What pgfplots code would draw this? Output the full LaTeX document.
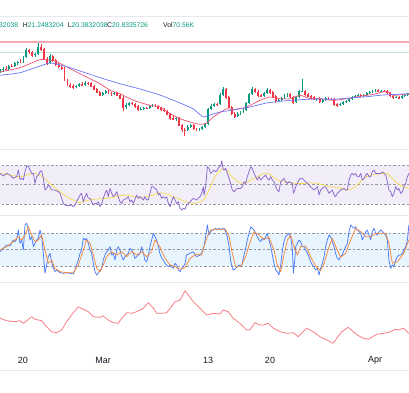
\documentclass[border=0pt]{standalone}
\usepackage{pgfplots}
\pgfplotsset{compat=1.18}
\usepackage{pgfplotstable}
\usepackage{fontspec}
\setmainfont{Liberation Sans}

\definecolor{upc}{HTML}{089981}
\definecolor{dnc}{HTML}{F23645}
\definecolor{maR}{HTML}{F0506E}
\definecolor{maB}{HTML}{6979F8}
\definecolor{hlR}{HTML}{F9A8AE}
\definecolor{hlT}{HTML}{B9E5DE}
\definecolor{rsiband}{HTML}{F2EEF9}
\definecolor{rsiline}{HTML}{8A66CC}
\definecolor{rsima}{HTML}{F5D94A}
\definecolor{stband}{HTML}{E9F5FE}
\definecolor{stK}{HTML}{4A7BF7}
\definecolor{stD}{HTML}{F5883A}
\definecolor{dashc}{HTML}{9598A1}
\definecolor{botline}{HTML}{F7777F}
\definecolor{sepc}{HTML}{E6E8EE}
\definecolor{txt}{HTML}{131722}

% candles: x index (3 per day), open, high, low, close  (price-scale position, top = small)
\pgfplotstableread{
x o h l c
0 72 70 74 71
1 71 68 72.5 69.5
2 69.5 67 71 70
3 70 66 71 66.5
4 66.5 64.5 68 67
5 67 63 68 64
6 64 61.5 65.5 62.5
7 62.5 60 64 63
8 63 57 64 58
9 58 49 59 51
10 51 50 54.5 52.5
11 52.5 51.5 57.5 56
12 56 54 58 55
13 55 44 56 48
14 48 44.5 52 50
15 50 49 61 60
16 60 58 66 64
17 64 55 65 57
18 57 55.5 62.5 61
19 61 60 66.5 65.5
20 65.5 64 68.5 67.5
21 67.5 66.5 71 69.5
22 69.5 68 82 81
23 81 80 87 85.5
24 85.5 84 88.5 87
25 87 85 89.5 88
26 88 85.5 89 86.5
27 86.5 84 88 85
28 85 83 87 86
29 86 82 87 83.5
30 83.5 82.5 85.5 84
31 84 83 88 87
32 87 86 91 90
33 90 88.5 94 93
34 93 92 97 96
35 96 93 97 94
36 94 91 95 92
37 92 91 95 93.5
38 93.5 92.5 96.5 95
39 95 92.5 96 94
40 94 93 97 96
41 96 94.5 99.5 99
42 99 97 112 108
43 108 104 110 105.5
44 105.5 103 107 104
45 104 103 106 104.5
46 104.5 103.5 108.5 107
47 107 106 112 110
48 110 108 111 109.5
49 109.5 107.5 110.5 108.5
50 108.5 107.5 110 109
51 109 106 110 107
52 107 104.5 108 105.5
53 105.5 104.5 108 106.5
54 106.5 105.5 110 109
55 109 108 111.5 110.5
56 110.5 109 112.5 111.5
57 111.5 110.5 116 115
58 115 114 121 119
59 119 117 121 120
60 120 118 122 119
61 119 118 127 126
62 126 125 133 130.5
63 130.5 129 137 131
64 131 126 132 127.5
65 127.5 125 129 126
66 126 125 131 129.5
67 129.5 128.5 132 130.5
68 130.5 128.5 131.5 130
69 130 126.5 131 127.5
70 127.5 124 128.5 125
71 125 109 126 110
72 110 105 111 106.5
73 106.5 103.5 108 104.5
74 104.5 103.5 107 105
75 105 94 106 96
76 96 88 97 90
77 90 89 99.5 98
78 98 97 109 108
79 108 107 116 114.5
80 114.5 113 118.5 117
81 117 113 118 114.5
82 114.5 112 116 113
83 113 109.5 114 110.5
84 110.5 103 111.5 104
85 104 93.5 105 95
86 95 87.5 96 89.5
87 89.5 88.5 94 92.5
88 92.5 91 97.5 96
89 96 94.5 98 97
90 97 93 98 94
91 94 89 95 90.5
92 90.5 89.5 94.5 93
93 93 92 98.5 97
94 97 96 104 101.5
95 101.5 99.5 103 101
96 101 97.5 102 98.5
97 98.5 95 99.5 96.5
98 96.5 94 97.5 95
99 95 94 99 97.5
100 97.5 96.5 105 103
101 103 97 104 98
102 98 91 99 92
103 92 80 93 91.5
104 91.5 90.5 96.5 95
105 95 94 98 97
106 97 96 99.5 98
107 98 97 101 100
108 100 98.5 101.5 99
109 99 98 104 102.5
110 102.5 100 103.5 101
111 101 98 102 99
112 99 98 100.5 99.5
113 99.5 98.5 101 100
114 100 99 107 105
115 105 104 107.5 106
116 106 103.5 107 104.5
117 104.5 102 105.5 103
118 103 100.5 104 101.5
119 101.5 99 102.5 100
120 100 97 101 98
121 98 95.5 99 96.5
122 96.5 95 97.5 96
123 96 94.5 97.5 96.5
124 96.5 94.5 97.5 95.5
125 95.5 93 96.5 94
126 94 91.5 95 92.5
127 92.5 90.5 93.5 91.5
128 91.5 90 92.5 91
129 91 90 93 92
130 92 90.5 93 91.5
131 91.5 90.5 93 92
132 92 91 94.5 93.5
133 93.5 92.5 97.5 96.5
134 96.5 95 100 98
135 98 96.5 99 97.5
136 97.5 96.5 100 99
137 99 96 100 97
138 97 95 98 96
139 96 94 97 95
}\candles

\pgfplotstableread{
x y
0 73
6.8 68.7
13.6 60.7
17.0 61.3
18.75 62
23.9 69.7
27.3 74.7
30.7 79.7
34.1 84.7
37.5 91.3
40.9 94.7
45.5 101.3
51.1 106.3
54.5 108
58.0 114.7
61.4 119.7
64.8 123
68.2 125.3
70.5 124
72.7 118
77.3 109.7
79.5 110.7
84.1 108
88.6 101.3
92.0 98
95.5 99.7
98.9 99.7
102.3 96.3
105.7 99.7
109.1 99.7
113.6 101.3
118.2 99.7
122.7 97.3
127.3 95.3
131.8 92.3
134.1 96.3
139.4 94.7
}\maRed

\pgfplotstableread{
x y
0 76.3
6.8 73.7
13.6 67
17 64
19.3 65
23.9 68.7
27.3 72
34.1 78.7
40.9 84.7
47.7 90
54.5 96
61.4 104
65.9 110
69.3 118
71.6 116
75 113
79.5 111
85.2 108
90.9 104
96.6 102
102.3 100.7
108 100
113.6 100.3
119.3 99
125 97.7
130.7 96
139.4 94.7
}\maBlue

\pgfplotstableread{
x y
0 61.4
1.14 58.7
2.27 61.4
3.41 59.7
4.55 56.3
5.68 58
6.25 64.8
6.82 55.2
7.39 56.3
7.95 54.6
8.52 63.1
9.09 68.9
9.66 68.9
10.23 64.8
10.8 61.4
11.36 61.4
11.93 51.1
12.5 58
13.07 59.7
13.64 63.1
14.2 64.1
14.77 56.3
15.34 44.3
15.9 46
16.48 49.4
17.05 47.7
17.6 44.3
18.75 44.3
19.9 42.6
20.45 40.9
21.0 35.8
21.6 30.6
22.16 28.9
23.3 28.2
24.4 28.9
25.0 27.2
25.6 28.9
26.1 32.3
26.7 35.8
27.3 39.2
27.8 40.9
28.4 32.3
29.0 37.5
29.5 40.9
30.1 35.8
30.7 35.8
31.25 32.3
31.8 28.9
32.4 30.6
32.95 30.6
33.5 32.3
34.1 27.2
34.7 30.6
35.2 35.8
35.8 40.9
36.4 44.3
36.9 37.5
37.5 46
38.1 40.9
38.6 37.5
39.2 39.2
39.8 42.6
40.3 37.5
40.9 32.3
41.5 30.6
42.0 34.0
43.2 35.8
43.75 37.5
44.3 32.3
44.9 34.0
45.45 30.6
46.0 34.7
46.6 39.2
47.2 35.8
47.7 37.5
48.3 35.8
48.9 34.0
49.4 37.5
50.0 34.0
50.6 34.7
51.1 40.9
51.7 47.7
52.3 47.7
52.8 46
53.4 45
54.0 39.2
54.5 40.9
55.1 35.8
55.7 37.5
56.25 35.8
56.8 37.5
57.4 30.6
58.0 27.2
58.5 32.3
59.1 37.5
59.7 34.0
60.2 30.6
60.8 32.3
61.4 25.5
61.9 23.8
62.5 25.5
63.1 24.5
63.6 28.9
64.8 32.3
65.9 35.8
67.0 34.0
68.2 37.5
68.75 40.9
69.3 47.7
69.55 39.2
70.1 47.7
70.7 68.2
71.25 66.5
71.8 61.4
72.4 63.1
72.96 64.8
73.5 63.1
74.1 64.8
74.7 68.2
75.2 68.9
75.6 74.4
76.0 66.5
76.4 64.8
76.9 66.5
77.5 61.4
78.1 56.3
78.6 51.1
79.2 44.3
79.8 42.6
80.3 44.3
80.9 46
82.05 46
82.6 47.7
83.2 52.9
83.75 51.1
84.3 58
84.9 63.1
85.5 68.2
86.0 66.5
86.6 61.4
87.2 58
87.7 54.6
88.3 58
88.9 54.6
89.4 56.3
90.0 58
90.6 59.7
91.1 56.3
91.7 54.6
92.3 58
92.85 54.6
93.4 52.9
94.0 47.7
94.55 44.3
95.1 42.6
95.7 52.9
96.3 54.6
96.8 56.3
97.4 52.9
98.0 51.1
98.5 52.9
99.7 51.1
100.0 40.9
100.5 44.3
100.8 47.7
101.4 51.1
101.9 54.6
102.5 56.3
103.1 56.3
103.6 54.6
104.8 51.1
105.9 47.7
107.05 44.3
108.2 47.7
108.8 39.2
109.3 44.3
109.9 46
110.5 47.7
111.0 47.7
111.6 44.3
112.2 40.9
112.7 42.6
113.3 44.3
113.9 39.2
114.4 37.5
115.0 40.9
115.6 42.6
116.1 44.3
117.3 46
117.85 44.3
118.4 44.3
119.0 54.6
119.55 59.7
120.1 61.4
120.7 59.7
121.25 61.4
121.8 58
122.4 58
123.0 61.4
123.5 54.6
124.1 56.3
124.7 59.7
125.2 61.4
125.8 58
126.4 58
126.9 63.1
127.5 64.8
128.1 61.4
128.6 61.4
129.8 61.4
130.35 63.1
130.9 61.4
131.5 59.7
132.05 52.9
132.6 44.3
133.2 42.6
133.75 37.5
134.3 40.9
134.9 47.7
135.5 44.3
136.0 46
136.6 40.9
137.2 42.6
137.7 47.7
138.3 51.1
138.9 58
139.4 61.4
}\rsi

\pgfplotstableread{
x y
0 61.4
3.4 59.7
6.8 58
9.1 59.7
11.4 61.4
13.6 59.7
15.9 54.6
18.2 47.7
20.5 42.6
22.7 37.5
25 34.0
27.3 31.3
29.5 33.4
31.8 34.7
34.1 35.4
36.4 35.8
38.6 36.8
40.9 38.5
43.2 39.2
45.5 37.5
47.7 36.8
50 37.5
52.3 39.2
54.5 41.6
56.8 40.2
59.1 37.5
61.4 34.7
63.6 32.3
65.9 30.6
68.2 32.3
69.55 34.7
70.7 40.9
71.8 47.7
73.0 56.3
74.1 61.4
75.2 64.8
76.4 65.5
77.5 64.8
78.6 59.7
80.9 52.9
83.2 51.1
85.5 54.6
87.7 58
90 61.4
91.1 61.4
92.3 59.7
94.55 54.6
96.8 52.9
99.1 51.8
101.4 51.1
103.6 51.1
105.9 51.8
108.2 51.1
110.5 49.4
112.7 47.7
115 47.0
117.3 45.0
118.4 44.3
119.55 45.0
121.8 49.4
124.1 56.3
126.4 59.7
128.6 60.7
130.9 61.4
132.05 61.4
133.2 58
135.5 51.1
137.7 47.7
139.4 46
}\rsima

\pgfplotstableread{
x y
0 46.1
1.14 52.1
2.27 58.2
3.41 56.4
4.55 67.3
5.11 64.3
5.68 68.5
6.25 85.5
6.82 61.2
7.39 67.3
7.95 49.1
8.52 94.6
9.09 97.6
9.66 85.5
10.23 67.3
10.8 73.4
11.36 55.2
11.93 61.2
12.5 67.3
13.07 70.3
13.64 85.5
14.2 73.4
14.77 43.1
15.34 6.7
15.9 21.8
16.48 37.0
17.05 43.1
17.6 27.9
18.2 15.8
18.75 9.7
19.3 12.8
20.45 7.9
21.6 6.7
22.7 7.9
23.9 6.7
25.0 5.5
25.6 12.8
26.1 21.8
26.7 30.9
27.3 43.1
27.8 49.1
28.4 70.3
29.0 67.3
29.5 70.3
30.1 61.2
30.7 49.1
31.25 43.1
31.8 24.9
32.4 9.7
32.95 3.7
33.5 6.7
34.1 12.8
34.7 15.8
35.2 30.9
35.8 40.0
36.4 46.1
36.9 49.1
37.5 55.2
38.1 40.0
38.6 43.1
39.2 30.9
39.8 49.1
40.3 55.2
40.9 49.1
41.5 37.0
42.0 30.9
42.6 37.0
43.2 40.0
43.75 43.1
44.3 52.1
44.9 49.1
45.45 43.1
46.0 34.0
46.6 37.0
47.2 40.0
47.7 43.1
48.3 55.2
48.9 43.1
49.4 30.9
50.0 27.9
50.6 40.0
51.1 55.2
51.7 67.3
52.3 79.4
52.8 73.4
53.4 67.3
54.0 55.2
54.5 43.1
55.1 34.0
55.7 30.9
56.25 24.9
56.8 21.8
57.4 18.8
58.0 21.8
58.5 18.8
59.1 15.8
59.7 24.9
60.2 21.8
60.8 12.8
61.4 9.7
61.9 15.8
62.5 18.8
63.1 24.9
63.6 40.0
64.8 43.1
65.9 46.1
67.0 37.0
68.2 40.0
68.75 43.1
69.3 52.1
69.55 55.2
70.1 73.4
70.7 94.6
71.25 76.4
71.8 82.4
72.4 85.5
73.0 85.5
73.5 88.5
74.1 85.5
74.7 88.5
75.2 85.5
75.8 88.5
76.4 88.5
76.9 82.4
77.5 73.4
78.1 55.2
78.6 30.9
79.2 15.8
79.8 12.8
80.3 15.8
80.9 18.8
81.5 21.8
82.05 18.8
82.6 24.9
83.2 40.0
83.75 52.1
84.3 67.3
84.9 79.4
85.5 91.5
86.0 88.5
86.6 85.5
87.2 79.4
87.7 73.4
88.3 67.3
88.9 64.3
89.4 70.3
90.0 67.3
90.6 73.4
91.1 79.4
91.7 67.3
92.3 55.2
92.85 40.0
93.4 24.9
94.0 12.8
94.55 9.7
95.1 3.7
95.7 21.8
96.3 49.1
96.8 64.3
97.4 73.4
98.0 76.4
98.5 79.4
99.1 73.4
99.7 49.1
100.0 6.7
100.5 30.9
100.8 55.2
101.4 61.2
101.9 67.3
102.5 64.3
103.1 55.2
103.6 55.2
104.2 49.1
104.8 43.1
105.3 37.0
105.9 27.9
106.5 21.8
107.05 18.8
107.6 12.8
108.2 15.8
108.8 3.7
109.3 15.8
109.9 24.9
110.5 37.0
111.0 55.2
111.6 67.3
112.2 76.4
112.7 73.4
113.3 64.3
113.9 55.2
114.4 43.1
115.0 34.0
115.6 30.9
116.1 37.0
116.7 40.0
117.3 49.1
117.85 55.2
118.4 61.2
119.0 82.4
119.55 94.6
120.1 91.5
120.7 88.5
121.25 91.5
121.8 85.5
122.4 82.4
123.0 79.4
123.5 67.3
124.1 73.4
124.7 82.4
125.2 85.5
125.8 76.4
126.4 67.3
126.9 82.4
127.5 88.5
128.1 79.4
128.6 76.4
129.2 82.4
129.8 85.5
130.35 82.4
130.9 79.4
131.5 76.4
132.05 67.3
132.6 30.9
133.2 15.8
133.75 21.8
134.3 18.8
134.9 30.9
135.5 37.0
136.0 40.0
136.6 40.0
137.2 43.1
137.7 49.1
138.3 55.2
138.9 67.3
139.4 94.6
}\stochK

\pgfplotstableread{
x y
0 49.1
2.27 55.2
4.55 64.3
6.25 73.4
7.39 67.3
8.52 76.4
9.66 91.5
10.8 76.4
11.93 64.3
13.07 67.3
14.2 76.4
15.34 49.1
16.48 24.9
17.6 30.9
18.75 15.8
20.45 9.7
22.7 7.9
25.0 7.9
26.7 21.8
28.4 49.1
29.5 67.3
30.7 61.2
31.8 40.0
32.95 15.8
34.1 9.7
35.2 21.8
36.4 37.0
38.1 46.1
39.8 40.0
41.5 46.1
43.2 37.0
44.9 46.1
46.6 40.0
48.3 46.1
50.0 37.0
51.7 46.1
52.8 67.3
54.5 55.2
56.25 34.0
58.0 21.8
59.7 18.8
61.4 13.9
63.1 17.6
64.8 34.0
67.0 41.8
68.75 40.0
69.55 55.2
70.7 73.4
71.8 85.5
73.5 86.7
75.2 86.7
76.9 86.7
78.1 73.4
79.2 43.1
80.3 18.8
82.05 18.8
83.75 37.0
85.5 67.3
86.6 82.4
88.3 76.4
90.0 68.5
91.7 72.2
93.4 49.1
94.55 21.8
95.7 9.7
96.8 40.0
98.0 67.3
99.1 76.4
100.2 55.2
101.4 40.0
102.5 55.2
104.2 56.4
105.9 37.0
107.6 20.0
109.3 11.5
110.5 24.9
112.2 55.2
113.3 70.3
115.0 49.1
116.1 35.8
117.85 43.1
119.55 67.3
121.25 88.5
123.0 82.4
124.7 73.4
126.4 73.4
128.1 79.4
129.8 79.4
131.5 79.4
132.6 61.2
133.75 24.9
135.5 27.9
137.7 43.1
139.4 67.3
}\stochD

\pgfplotstableread{
x y
0 318.3
2.27 320.7
5.11 321.7
6.82 320.7
7.95 323.3
9.09 320.7
10.8 316.7
11.93 319.3
13.07 320
14.2 320.7
15.9 326.7
17.6 331.7
19.3 332.7
21.0 330
22.7 321.7
24.4 315
26.7 306.7
28.4 309.3
30.1 311.7
31.8 316.7
34.1 317.3
35.2 316
36.9 320
38.6 322.7
40.3 323.3
41.5 318.3
43.2 312.7
44.9 313.3
46.6 311.7
48.9 308.3
50.6 302.7
52.3 308.3
53.4 313.3
55.1 313.3
56.8 312.7
58.0 308.3
59.7 301.7
61.4 300
63.1 290.7
64.2 295
65.9 301.7
68.2 308.3
70.45 315
72.7 313.3
75.0 314
76.1 310
77.8 311.7
79.5 318.3
81.8 323.3
84.1 330
85.2 330
86.9 322.7
88.6 325
89.8 325
91.5 323.3
93.2 328.3
95.5 331.7
97.7 333.3
100.0 332.7
101.7 336.7
102.8 333.3
104.5 328.3
106.8 331.7
109.1 336.7
111.4 340
113.6 343.3
114.8 338.3
116.5 331.7
118.75 327.3
120.45 331.7
122.2 335.7
123.9 338.3
125.6 339.3
126.7 337.3
128.4 334.3
130.7 333.3
133.0 332
134.7 329.3
135.8 330
137.5 328.3
139.4 333.3
}\botind

\pgfplotsset{
  candle/.style 2 args={draw=none, mark=none, forget plot,
    error bars/.cd, y dir=plus, y explicit, error mark=none,
    error bar style={draw=#1, line width=#2}}
}

\begin{document}
\begin{tikzpicture}
\fill[white] (0pt,0pt) rectangle (409pt,392pt);
\path[use as bounding box] (0pt,0pt) rectangle (409pt,392pt);

% separators
\begin{scope}[x=1pt,y=1pt]
\foreach \py in {16,149,215,282,370}{
  \draw[sepc, line width=0.8pt] (0,{392-\py}) -- (409,{392-\py});
}
\end{scope}

% header
\begin{scope}[every node/.style={anchor=west, inner sep=0pt, font=\fontsize{6.8}{8}\selectfont}]
\node at (-1pt,367pt) {\textcolor{upc}{32038}};
\node at (22.7pt,367pt) {\textcolor{txt}{H}\textcolor{upc}{21.2483204}};
\node at (67.7pt,367pt) {\textcolor{txt}{L}\textcolor{upc}{20.3832038}};
\node at (107pt,367pt) {\textcolor{txt}{C}\textcolor{upc}{20.8335726}};
\node at (163pt,367pt) {\textcolor{txt}{Vol}\textcolor{upc}{70.56K}};
\end{scope}

% ---- main price pane
\begin{axis}[at={(0pt,376pt)}, anchor=north west, width=409pt, height=132pt,
  scale only axis, hide axis, xmin=0, xmax=139.44, ymin=17, ymax=149, y dir=reverse, clip=true]
\addplot[hlR, line width=1.3pt] coordinates {(-1,43) (141,43)};
\addplot[hlT, line width=0.7pt] coordinates {(-1,53) (141,53)};
% wicks
\addplot[candle={upc}{0.6pt}]
  table[x=x, y expr={\thisrow{c}<\thisrow{o} ? \thisrow{h} : nan},
        y error plus expr={\thisrow{l}-\thisrow{h}}]{\candles};
\addplot[candle={dnc}{0.6pt}]
  table[x=x, y expr={\thisrow{c}<\thisrow{o} ? nan : \thisrow{h}},
        y error plus expr={\thisrow{l}-\thisrow{h}}]{\candles};
% bodies
\addplot[candle={upc}{1.9pt}]
  table[x=x, y expr={\thisrow{c}<\thisrow{o} ? \thisrow{c} : nan},
        y error plus expr={\thisrow{o}-\thisrow{c}}]{\candles};
\addplot[candle={dnc}{1.9pt}]
  table[x=x, y expr={\thisrow{c}<\thisrow{o} ? nan : \thisrow{o}},
        y error plus expr={\thisrow{c}-\thisrow{o}+0.5}]{\candles};
\addplot[maR, line width=0.7pt, smooth, tension=0.4] table[x=x,y=y]{\maRed};
\addplot[maB, line width=0.7pt, smooth, tension=0.4] table[x=x,y=y]{\maBlue};
\end{axis}

% ---- RSI pane
\begin{axis}[at={(0pt,242pt)}, anchor=north west, width=409pt, height=64pt,
  scale only axis, hide axis, xmin=0, xmax=139.44, ymin=19.73, ymax=85.39, clip=true]
\addplot[draw=none, fill=rsiband] coordinates {(-1,30) (141,30) (141,70) (-1,70)} -- cycle;
\addplot[dashc, dash pattern=on 2.5pt off 2pt, line width=0.5pt] coordinates {(-1,70) (141,70)};
\addplot[dashc, dash pattern=on 2.5pt off 2pt, line width=0.5pt] coordinates {(-1,50) (141,50)};
\addplot[dashc, dash pattern=on 2.5pt off 2pt, line width=0.5pt] coordinates {(-1,30) (141,30)};
\addplot[rsima, line width=0.7pt, smooth, tension=0.4] table[x=x,y=y]{\rsima};
\addplot[rsiline, line width=0.75pt, line join=round] table[x=x,y=y]{\rsi};
\end{axis}

% ---- Stochastic pane
\begin{axis}[at={(0pt,176pt)}, anchor=north west, width=409pt, height=65pt,
  scale only axis, hide axis, xmin=0, xmax=139.44, ymin=-7.27, ymax=110.9, clip=true]
\addplot[draw=none, fill=stband] coordinates {(-1,20) (141,20) (141,80) (-1,80)} -- cycle;
\addplot[dashc, dash pattern=on 2.5pt off 2pt, line width=0.5pt] coordinates {(-1,80) (141,80)};
\addplot[dashc, dash pattern=on 2.5pt off 2pt, line width=0.5pt] coordinates {(-1,50) (141,50)};
\addplot[dashc, dash pattern=on 2.5pt off 2pt, line width=0.5pt] coordinates {(-1,20) (141,20)};
\addplot[stK, line width=0.75pt, line join=round] table[x=x,y=y]{\stochK};
\addplot[stD, line width=0.75pt, line join=round] table[x=x,y=y]{\stochD};
\end{axis}

% ---- bottom indicator pane with time axis labels
\begin{axis}[at={(0pt,109pt)}, anchor=north west, width=409pt, height=65pt,
  scale only axis, xmin=0, xmax=139.44, ymin=283, ymax=348, y dir=reverse, clip=true,
  axis line style={draw=none}, ytick=\empty, major tick length=0pt,
  xtick={7.84,35.12,70.92,92.05,127.85},
  xticklabels={20,Mar,13,20,Apr},
  xticklabel style={anchor=center, yshift=-12pt, text=txt, font=\fontsize{9}{10}\selectfont}]
\addplot[botline, line width=0.75pt, line join=round] table[x=x,y=y]{\botind};
\end{axis}
\end{tikzpicture}
\end{document}
